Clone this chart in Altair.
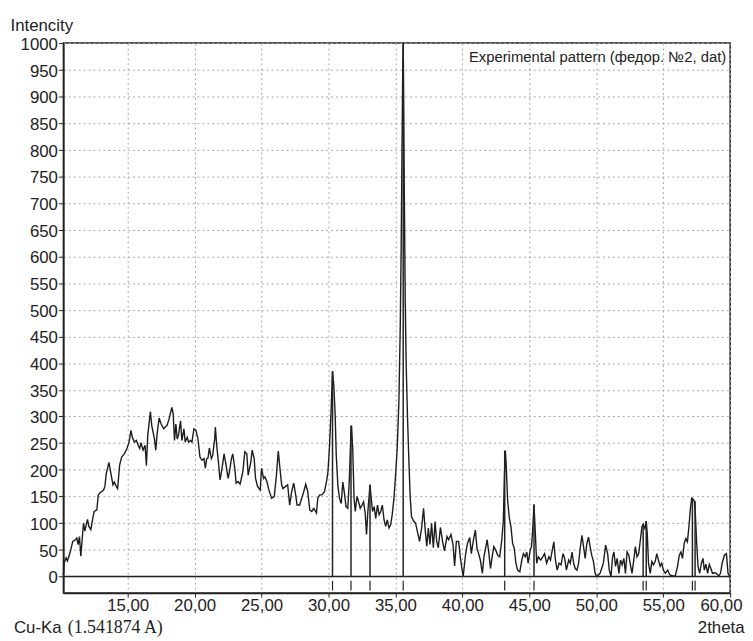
import altair as alt
import pandas as pd

# ---- data ----
theta = [10.20, 10.25, 10.4, 10.5, 10.7, 10.9, 11.1, 11.2, 11.3, 11.4, 11.5, 11.7, 11.8, 12.0, 12.1, 12.25,
         12.4, 12.5, 12.7, 12.8, 12.9, 13.2, 13.3, 13.4, 13.6, 13.7, 13.9, 14.0, 14.15, 14.25, 14.4, 14.55,
         14.75, 14.95, 15.1, 15.25, 15.35, 15.5, 15.65, 15.8, 15.9, 16.0, 16.15, 16.3, 16.4, 16.5, 16.7, 16.8,
         17.0, 17.1, 17.2, 17.35, 17.5, 17.7, 17.8, 17.95, 18.1, 18.3, 18.4, 18.5, 18.6, 18.7, 18.8, 18.95,
         19.05, 19.2, 19.3, 19.45, 19.55, 19.7, 19.8, 19.95, 20.1, 20.25, 20.4, 20.55, 20.7, 20.8, 20.9, 21.0,
         21.1, 21.25, 21.35, 21.5, 21.55, 21.65, 21.8, 21.9, 22.05, 22.2, 22.35, 22.5, 22.6, 22.75, 22.85, 23.0,
         23.1, 23.25, 23.4, 23.6, 23.75, 23.9, 24.0, 24.2, 24.3, 24.45, 24.55, 24.7, 24.9, 25.0, 25.15, 25.25,
         25.4, 25.55, 25.75, 25.95, 26.1, 26.25, 26.35, 26.5, 26.6, 26.8, 26.95, 27.1, 27.25, 27.4, 27.55, 27.65,
         27.85, 28.0, 28.15, 28.3, 28.45, 28.6, 28.75, 28.9, 29.1, 29.2, 29.35, 29.5, 29.7, 29.85, 29.96, 30.08,
         30.2, 30.3, 30.4, 30.5, 30.58, 30.7, 30.82, 30.95, 31.07, 31.19, 31.31, 31.44, 31.56, 31.66, 31.72, 31.81,
         31.91, 32.0, 32.13, 32.25, 32.37, 32.5, 32.62, 32.74, 32.84, 32.94, 33.1, 33.19, 33.29, 33.41, 33.53, 33.66,
         33.78, 33.9, 34.02, 34.15, 34.27, 34.39, 34.52, 34.64, 34.76, 34.89, 35.01, 35.13, 35.26, 35.36, 35.43, 35.49,
         35.55, 35.58, 35.62, 35.67, 35.73, 35.8, 35.9, 36.0, 36.1, 36.2, 36.36, 36.5, 36.68, 36.8, 36.95, 37.1,
         37.22, 37.34, 37.46, 37.58, 37.7, 37.83, 37.96, 38.08, 38.2, 38.36, 38.52, 38.66, 38.85, 38.97, 39.15, 39.3,
         39.42, 39.55, 39.72, 39.85, 39.95, 40.06, 40.23, 40.38, 40.55, 40.67, 40.82, 40.97, 41.09, 41.21, 41.34, 41.49,
         41.61, 41.73, 41.85, 41.98, 42.1, 42.22, 42.35, 42.5, 42.64, 42.79, 42.94, 43.06, 43.14, 43.21, 43.28, 43.38,
         43.5, 43.63, 43.75, 43.87, 44.0, 44.12, 44.29, 44.44, 44.56, 44.69, 44.81, 44.91, 45.06, 45.16, 45.25, 45.35,
         45.45, 45.55, 45.67, 45.85, 46.0, 46.14, 46.29, 46.46, 46.58, 46.71, 46.83, 46.95, 47.08, 47.22, 47.37, 47.52,
         47.64, 47.77, 47.94, 48.06, 48.19, 48.31, 48.43, 48.56, 48.68, 48.8, 48.93, 49.05, 49.17, 49.3, 49.42, 49.54,
         49.66, 49.79, 49.91, 50.03, 50.28, 50.53, 50.7, 50.85, 50.97, 51.1, 51.22, 51.32, 51.44, 51.56, 51.69, 51.81,
         51.93, 52.06, 52.18, 52.3, 52.43, 52.55, 52.67, 52.8, 52.92, 53.04, 53.17, 53.29, 53.41, 53.5, 53.63, 53.73,
         53.81, 53.9, 54.03, 54.15, 54.27, 54.4, 54.52, 54.64, 54.77, 54.89, 55.01, 55.16, 55.33, 55.5, 55.7, 55.9,
         56.07, 56.2, 56.32, 56.44, 56.57, 56.69, 56.81, 56.94, 57.03, 57.13, 57.23, 57.33, 57.4, 57.5, 57.6, 57.72,
         57.85, 57.97, 58.07, 58.19, 58.32, 58.44, 58.56, 58.68, 58.81, 58.96, 59.15, 59.28, 59.4, 59.57, 59.72, 59.84,
         59.94]
intensity = [3, 25, 35, 29, 45, 66, 69, 72, 60, 75, 38, 100, 85, 107, 94, 88,
             110, 122, 125, 153, 156, 162, 169, 193, 214, 200, 172, 177, 169, 165, 209, 224,
             230, 240, 252, 274, 261, 252, 255, 245, 240, 251, 237, 246, 208, 265, 309, 283,
             258, 237, 268, 297, 286, 277, 280, 284, 296, 317, 305, 255, 286, 258, 265, 292,
             255, 277, 252, 261, 252, 255, 252, 277, 274, 258, 224, 218, 221, 203, 221, 222,
             241, 221, 227, 258, 280, 246, 209, 181, 203, 230, 209, 184, 196, 221, 230, 203,
             175, 178, 173, 196, 234, 230, 190, 215, 237, 221, 184, 169, 162, 203, 184, 187,
             178, 162, 147, 150, 187, 235, 209, 172, 165, 169, 172, 134, 159, 175, 153, 134,
             134, 147, 159, 173, 159, 125, 122, 128, 119, 147, 153, 153, 159, 178, 196, 246,
             314, 385, 357, 301, 227, 171, 147, 137, 177, 156, 131, 128, 184, 258, 283, 239,
             147, 122, 150, 140, 128, 134, 140, 119, 79, 122, 172, 147, 122, 131, 109, 134,
             116, 122, 134, 106, 94, 106, 91, 97, 116, 147, 190, 239, 330, 470, 620, 800,
             960, 1000, 880, 700, 520, 400, 300, 220, 150, 112, 104, 100, 80, 66, 90, 128,
             88, 57, 91, 60, 100, 54, 103, 66, 54, 92, 66, 48, 75, 69, 79, 60,
             20, 66, 66, 35, 17, 0, 40, 62, 73, 43, 68, 87, 53, 43, 31, 6,
             37, 53, 69, 43, 15, 37, 56, 49, 40, 37, 68, 105, 192, 236, 204, 142,
             111, 93, 62, 53, 25, 12, 9, 31, 43, 37, 46, 25, 49, 56, 87, 135,
             80, 25, 37, 31, 37, 43, 25, 37, 31, 49, 65, 31, 12, 25, 22, 43,
             34, 12, 31, 25, 46, 25, 15, 12, 25, 53, 77, 56, 34, 62, 74, 56,
             40, 28, 6, 0, 6, 25, 59, 43, 12, 0, 37, 46, 19, 34, 6, 31,
             22, 34, 6, 46, 40, 22, 6, 31, 56, 37, 43, 68, 93, 98, 90, 104,
             80, 25, 6, 28, 22, 28, 43, 31, 19, 25, 12, 6, 12, 3, 1, 1,
             19, 40, 46, 34, 62, 71, 65, 99, 127, 147, 145, 141, 117, 62, 19, 6,
             25, 34, 12, 23, 6, 23, 15, 6, 7, 6, 1, 6, 25, 40, 43, 6,
             1]

stick_theta = [30.3, 31.68, 33.1, 35.58, 43.16, 45.35, 53.5, 53.73, 57.18, 57.38]
stick_height = [385, 283, 172, 1000, 236, 135, 98, 104, 147, 141]

x_ticks = [15, 20, 25, 30, 35, 40, 45, 50, 55, 60]
y_ticks = list(range(0, 1001, 50))

FONT = "Liberation Sans"
INK = "#222222"

df = pd.DataFrame({"theta": theta, "I": intensity})
sticks = pd.DataFrame({"theta": stick_theta, "h": stick_height})
sticks["zero"] = 0
sticks["m1"] = -8
sticks["m2"] = -26

xscale = alt.Scale(domain=[10.2, 60], nice=False, zero=False)
yscale = alt.Scale(domain=[-31, 1000], nice=False, zero=False)

x_axis = alt.Axis(
    values=x_ticks, tickCount=30,
    labelExpr="replace(format(datum.value, '.2f'), '.', ',')",
    title="2theta", titleX=688, titleY=40, titleAlign="right", titleBaseline="alphabetic",
    titleFontSize=17, titleFontWeight="normal",
    labelFontSize=17, labelPadding=1, tickSize=4, tickColor=INK,
    labelFlush=True, labelFlushOffset=12, labelOverlap=False,
    grid=True, gridColor="#a8a8a8", gridDash=[2, 3], gridWidth=1,
    domainColor=INK, domainWidth=1.5,
)
y_axis = alt.Axis(
    values=y_ticks, tickCount=40, format="d", labelOverlap=False,
    title="Intencity", titleAngle=0, titleX=-54, titleY=-13, titleAlign="left",
    titleBaseline="alphabetic", titleFontSize=17, titleFontWeight="normal",
    labelFontSize=17, labelPadding=1, tickSize=5, tickColor=INK, labelOffset=1.5,
    grid=True, gridColor="#a8a8a8", gridDash=[2, 3], gridWidth=1,
    domainColor=INK, domainWidth=1.5,
)

base = alt.Chart(df)
line = base.mark_line(color="#1c1c1c", strokeWidth=1.4).encode(
    x=alt.X("theta:Q", scale=xscale, axis=x_axis),
    y=alt.Y("I:Q", scale=yscale, axis=y_axis),
)

baseline = alt.Chart(pd.DataFrame({"y": [0]})).mark_rule(color=INK, strokeWidth=1.5).encode(
    y=alt.Y("y:Q", scale=yscale)
)

stick_rules = alt.Chart(sticks).mark_rule(color=INK, strokeWidth=1.5).encode(
    x=alt.X("theta:Q", scale=xscale),
    y=alt.Y("zero:Q", scale=yscale),
    y2="h:Q",
)
stick_marks = alt.Chart(sticks).mark_rule(color=INK, strokeWidth=1.2).encode(
    x=alt.X("theta:Q", scale=xscale),
    y=alt.Y("m1:Q", scale=yscale),
    y2="m2:Q",
)

legend_text = alt.Chart(pd.DataFrame({"t": ["Experimental pattern (федор. №2, dat)"]})).mark_text(
    font=FONT, fontSize=15, color=INK, align="right", baseline="alphabetic"
).encode(x=alt.value(670), y=alt.value(19), text="t:N")

cu_text = alt.Chart(pd.DataFrame({"t": ["Cu-Ka"]})).mark_text(
    font=FONT, fontSize=17, color=INK, align="left", baseline="alphabetic"
).encode(x=alt.value(-50), y=alt.value(596.5), text="t:N")

wl_text = alt.Chart(pd.DataFrame({"t": ["(1.541874 A)"]})).mark_text(
    font="Liberation Serif", fontSize=18, color=INK, align="left", baseline="alphabetic"
).encode(x=alt.value(4.5), y=alt.value(596.5), text="t:N")

chart = alt.layer(
    line, baseline, stick_rules, stick_marks, legend_text, cu_text, wl_text
).properties(
    width=674, height=556,
    autosize=alt.AutoSizeParams(type="none"),
    padding={"left": 56, "top": 32, "right": 15, "bottom": 45},
    background="white",
).configure_view(
    stroke=INK, strokeWidth=1.5
).configure_axis(
    labelFont=FONT, titleFont=FONT, labelColor=INK, titleColor=INK
)

chart.save("out.html", embed_options={"renderer": "svg", "actions": False})
